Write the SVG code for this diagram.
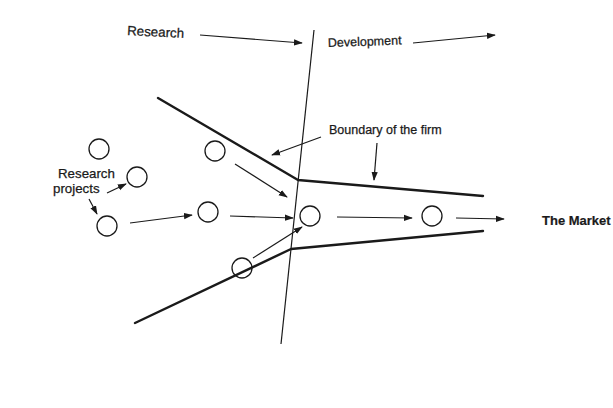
<svg xmlns="http://www.w3.org/2000/svg" width="613" height="408" viewBox="0 0 613 408">
  <style>
    .lbl { font-family: "Liberation Sans", Arial, sans-serif; font-size: 12.5px; fill: #1a1a1a; stroke: #1a1a1a; stroke-width: 0.25; }
    .big { font-size: 13.3px; }
    .bold { font-weight: bold; font-size: 13px; stroke-width: 0.2; }
    .bound { fill: none; stroke: #1a1a1a; stroke-width: 2.4; stroke-linejoin: round; stroke-linecap: round; }
    .divider { fill: none; stroke: #1a1a1a; stroke-width: 1.2; }
    .proj { fill: #fff; stroke: #1a1a1a; stroke-width: 1.3; }
    .arr { fill: none; stroke: #1a1a1a; stroke-width: 1.2; marker-end: url(#head); }
  </style>
  <defs>
    <marker id="head" viewBox="0 0 10 10" refX="9" refY="5" markerWidth="9" markerHeight="9" markerUnits="userSpaceOnUse" orient="auto">
      <path d="M0,1.5 L10,5 L0,8.5 Z" fill="#1a1a1a"/>
    </marker>
  </defs>
  <rect width="613" height="408" fill="#fff"/>

  <!-- funnel boundary of the firm and the research/development divide -->
  <g id="boundary">
    <polyline class="bound" points="158,98 298,180 483,196"/>
    <polyline class="bound" points="135,323 291,249 483,231"/>
    <line class="divider" x1="314" y1="30" x2="281" y2="344"/>
  </g>

  <!-- research projects -->
  <g id="p1"><circle class="proj" cx="99" cy="149" r="10"/></g>
  <g id="p2"><circle class="proj" cx="137" cy="177" r="10"/></g>
  <g id="p3"><circle class="proj" cx="107" cy="226" r="10"/></g>
  <g id="p4"><circle class="proj" cx="215" cy="151" r="10"/></g>
  <g id="p5"><circle class="proj" cx="208" cy="212" r="10"/></g>
  <g id="p6"><circle cx="242" cy="268" r="10" fill="none" stroke="#1a1a1a" stroke-width="1.3"/></g>
  <g id="p7"><circle class="proj" cx="310" cy="216" r="10"/></g>
  <g id="p8"><circle class="proj" cx="432" cy="216" r="10"/></g>

  <!-- labels -->
  <g id="labels">
    <text class="lbl big" x="127" y="35" transform="rotate(3 127 35)">Research</text>
    <text class="lbl" x="328" y="47" transform="rotate(-2 328 47)">Development</text>
    <text class="lbl" x="329" y="134">Boundary of the firm</text>
    <text class="lbl big" x="58" y="178">Research</text>
    <text class="lbl big" x="53" y="193">projects</text>
    <text class="lbl bold" x="542" y="225">The Market</text>
  </g>

  <!-- connectors -->
  <g id="connectors">
    <line class="arr" x1="200" y1="35" x2="302" y2="43"/>
    <line class="arr" x1="413" y1="43" x2="495" y2="35"/>
    <line class="arr" x1="321" y1="137" x2="272" y2="155"/>
    <line class="arr" x1="377" y1="143" x2="374" y2="180"/>
    <line class="arr" x1="107" y1="193" x2="126" y2="184"/>
    <line class="arr" x1="89" y1="199" x2="97" y2="214"/>
    <line class="arr" x1="130" y1="223" x2="192" y2="215"/>
    <line class="arr" x1="235" y1="164" x2="287" y2="197"/>
    <line class="arr" x1="230" y1="216" x2="293" y2="218"/>
    <line class="arr" x1="253" y1="258" x2="302" y2="227"/>
    <line class="arr" x1="337" y1="217" x2="412" y2="218"/>
    <line class="arr" x1="456" y1="218" x2="504" y2="219"/>
  </g>
</svg>
